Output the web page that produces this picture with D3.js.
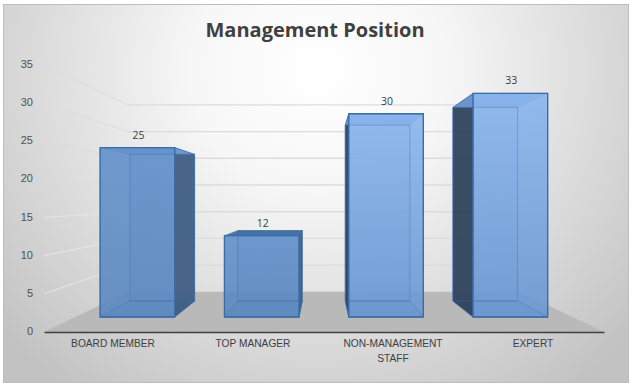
<!DOCTYPE html>
<html>
<head>
<meta charset="utf-8">
<script src="https://cdn.jsdelivr.net/npm/d3@7"></script>
<style>
  html, body { margin: 0; padding: 0; background: #fff; }
  svg { display: block; font-family: "Open Sans", "Noto Sans", sans-serif; }
</style>
</head>
<body>
<div id="chart"></div>
<script>
// data
var categories = ["BOARD MEMBER", "TOP MANAGER", "NON-MANAGEMENT STAFF", "EXPERT"];
var values = [25, 12, 30, 33];
var yTicks = [0, 5, 10, 15, 20, 25, 30, 35];
var titleText = "Management Position";

// specify size
var width = 633;
var height = 387;

// perspective: vanishing point and depth scales
var vanish = {x: 323, y: 198};
var wallDepth = 0.7;
var barFront = 0.888;
var barBack = 0.769;

function project(x, y, s) {
  return [vanish.x + (x - vanish.x) * s, vanish.y + (y - vanish.y) * s];
}

var svg = d3.select("#chart")
            .append("svg")
            .attr("width", width)
            .attr("height", height);

// scales, in the front plane of the chart
var xScale = d3.scaleBand()
               .domain(categories)
               .range([44, 604])
               .paddingInner(0.4)
               .paddingOuter(0.2);
var yScale = d3.scaleLinear()
               .domain([0, 35])
               .range([332, 65]);

// gradients
var defs = svg.append("defs");
var bg = defs.append("radialGradient")
             .attr("id", "bg")
             .attr("gradientUnits", "userSpaceOnUse")
             .attr("cx", 0).attr("cy", 0).attr("r", 1)
             .attr("gradientTransform", "translate(318,70) scale(420,400)");
bg.append("stop").attr("offset", "0").attr("stop-color", "#ffffff");
bg.append("stop").attr("offset", "0.3").attr("stop-color", "#f7f7f7");
bg.append("stop").attr("offset", "1").attr("stop-color", "#c2c2c2");

function addBarGradient(id, top, bottom) {
  var g = defs.append("linearGradient")
              .attr("id", id)
              .attr("x1", 0).attr("y1", 0).attr("x2", 0).attr("y2", 1);
  g.append("stop").attr("offset", "0").attr("stop-color", top);
  g.append("stop").attr("offset", "1").attr("stop-color", bottom);
}
addBarGradient("dull", "#6391ca", "#5c89c0");
addBarGradient("bright", "#8ab5ec", "#6a97d2");

// chart area
svg.append("rect")
   .attr("x", 3.5).attr("y", 4.5)
   .attr("width", 625).attr("height", 378)
   .attr("fill", "url(#bg)")
   .attr("stroke", "#bdbdbd")
   .attr("stroke-width", 1);

// title
svg.append("text")
   .text(titleText)
   .attr("x", 315)
   .attr("y", 37)
   .attr("text-anchor", "middle")
   .attr("font-size", 20)
   .attr("font-weight", 700)
   .attr("fill", "#404040");

// side wall and back wall gridlines
var x0 = xScale.range()[0], x1 = xScale.range()[1];
yTicks.slice(1).forEach(function(t) {
  var a = project(x0, yScale(t), 1);
  var b = project(x0, yScale(t), wallDepth);
  var c = project(x1, yScale(t), wallDepth);
  svg.append("line")
     .attr("x1", a[0]).attr("y1", a[1]).attr("x2", b[0]).attr("y2", b[1])
     .attr("stroke", t < 20 ? "#e6e6e6" : "#dcdcdc")
     .attr("stroke-width", 1);
  svg.append("line")
     .attr("x1", b[0]).attr("y1", b[1]).attr("x2", c[0]).attr("y2", c[1])
     .attr("stroke", "#dcdcdc")
     .attr("stroke-width", 1.4);
});

// floor
var floor = [project(x0, yScale(0), 1), project(x1, yScale(0), 1),
             project(x1, yScale(0), wallDepth), project(x0, yScale(0), wallDepth)];
svg.append("polygon")
   .attr("points", floor.join(" "))
   .attr("fill", "#b9b9b9");

// bars
var line = d3.line();
var bars = svg.selectAll(".bar")
              .data(categories)
              .enter().append("g")
              .attr("class", "bar");

bars.each(function(d, i) {
  var g = d3.select(this);
  var left = xScale(d), right = left + xScale.bandwidth();
  var base = yScale(0), top = yScale(values[i]);
  var fill = i < 2 ? "url(#dull)" : "url(#bright)";

  function quad(p) {
    return line(p.map(function(q) { return project(q[0], q[1], q[2]); })) + "Z";
  }
  function face(p, color, opacity) {
    g.append("path")
     .attr("d", quad(p))
     .attr("fill", color)
     .attr("fill-opacity", opacity)
     .attr("stroke", "#3f6fa8")
     .attr("stroke-opacity", 0.6)
     .attr("stroke-width", 1);
  }

  var backFace = [[left, top, barBack], [right, top, barBack], [right, base, barBack], [left, base, barBack]];
  var frontFace = [[left, top, barFront], [right, top, barFront], [right, base, barFront], [left, base, barFront]];
  var floorFace = [[left, base, barFront], [right, base, barFront], [right, base, barBack], [left, base, barBack]];

  // back, floor of the bar, sides, lid, front
  face(backFace, fill, 0.3);
  face(floorFace, "#4f7db5", 0.5);
  if (left > vanish.x) {
    face([[left, top, barFront], [left, top, barBack], [left, base, barBack], [left, base, barFront]], "#2c4058", 0.92);
  }
  if (right < vanish.x) {
    face([[right, top, barFront], [right, top, barBack], [right, base, barBack], [right, base, barFront]], "#3e5c82", 0.92);
  }
  face([[left, top, barFront], [right, top, barFront], [right, top, barBack], [left, top, barBack]],
       top > vanish.y ? "#3a679f" : "#6f9dd8", 0.9);
  face(frontFace, fill, 0.9);

  // inner edges seen through the front
  g.append("path")
   .attr("d", quad(backFace))
   .attr("fill", "none")
   .attr("stroke", "#3f6fa8")
   .attr("stroke-opacity", 0.3);
  g.append("path")
   .attr("d", quad(floorFace))
   .attr("fill", "none")
   .attr("stroke", "#3f6fa8")
   .attr("stroke-opacity", 0.3);

  // stronger front outline
  g.append("path")
   .attr("d", quad(frontFace))
   .attr("fill", "none")
   .attr("stroke", "#3b6ca6")
   .attr("stroke-width", 1.3);

  // value label
  var p = project((left + right) / 2, top, barFront);
  g.append("text")
   .text(values[i])
   .attr("x", p[0] + 1)
   .attr("y", p[1] - 9)
   .attr("text-anchor", "middle")
   .attr("font-size", 10.5)
   .attr("fill", "#404040");
});

// y axis
var yAxis = d3.axisLeft(yScale).tickValues(yTicks).tickSize(0).tickPadding(11);
var yG = svg.append("g")
            .attr("transform", "translate(44,-1)")
            .call(yAxis);
yG.select(".domain").remove();
yG.selectAll("text")
  .attr("font-family", "inherit")
  .attr("font-size", 11)
  .attr("fill", "#505050");

// x axis
var xAxis = d3.axisBottom(xScale).tickSize(0).tickPadding(8);
var xG = svg.append("g")
            .attr("transform", "translate(0," + yScale(0) + ")")
            .call(xAxis);
xG.select(".domain")
  .attr("stroke", "#404040")
  .attr("stroke-width", 1.5);
xG.selectAll("text")
  .attr("font-family", "inherit")
  .attr("font-size", 10.2)
  .attr("fill", "#404040")
  .each(function(d) {
    // wrap the long label on two lines
    var parts = d === "NON-MANAGEMENT STAFF" ? ["NON-MANAGEMENT", "STAFF"] : [d];
    var t = d3.select(this).text(null);
    parts.forEach(function(s, k) {
      t.append("tspan").attr("x", -1).attr("dy", k === 0 ? "0.71em" : 15).text(s);
    });
  });
</script>
</body>
</html>
